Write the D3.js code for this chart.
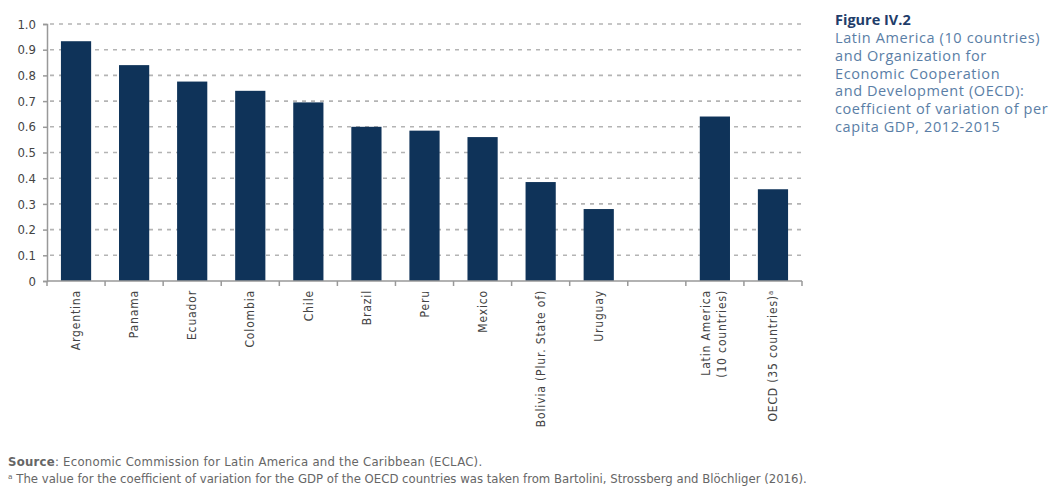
<!DOCTYPE html>
<html>
<head>
<meta charset="utf-8">
<script src="https://cdn.jsdelivr.net/npm/d3@7"></script>
<style>
  html, body { margin: 0; padding: 0; background: #fff; }
  svg { display: block; }
  .cond { font-family: "Liberation Sans Narrow", "DejaVu Sans Condensed", "Liberation Sans", sans-serif; }
</style>
</head>
<body>
<svg id="chart" width="1054" height="486"></svg>
<script>
// Coefficient of variation of per capita GDP, 2012-2015
const categories = [
  ["Argentina"], ["Panama"], ["Ecuador"], ["Colombia"], ["Chile"], ["Brazil"],
  ["Peru"], ["Mexico"], ["Bolivia (Plur. State of)"], ["Uruguay"], [""],
  ["Latin America", "(10 countries)"], ["OECD (35 countries)ᵃ"]
];
const values = [0.933, 0.84, 0.776, 0.74, 0.695, 0.60, 0.585, 0.56, 0.385, 0.28, null, 0.64, 0.357];
const yTicks = [0, 0.1, 0.2, 0.3, 0.4, 0.5, 0.6, 0.7, 0.8, 0.9, 1.0];
const titleLines = [
  "Latin America (10 countries)",
  "and Organization for",
  "Economic Cooperation",
  "and Development (OECD):",
  "coefficient of variation of per",
  "capita GDP, 2012-2015"
];

const svg = d3.select("#chart");
const plotLeft = 47, plotRight = 802, plotTop = 24, plotBottom = 281;

const keys = categories.map((c, i) => "k" + i);
const x = d3.scaleBand().domain(keys).range([plotLeft, plotRight]).paddingInner(0.48).paddingOuter(0.24);
const y = d3.scaleLinear().domain([0, 1]).range([plotBottom, plotTop]);

// dashed gridlines
svg.append("g").selectAll("line").data(yTicks.filter(d => d > 0)).join("line")
  .attr("x1", plotLeft + 3).attr("x2", plotRight)
  .attr("y1", d => y(d)).attr("y2", d => y(d))
  .attr("stroke", "#b4b4b4").attr("stroke-width", 1.6)
  .attr("stroke-dasharray", "4,5");

// bars
const data = keys.map((k, i) => ({ k, v: values[i] })).filter(d => d.v != null);
svg.append("g").selectAll("rect").data(data).join("rect")
  .attr("x", d => x(d.k))
  .attr("width", x.bandwidth())
  .attr("y", d => y(d.v))
  .attr("height", d => y(0) - y(d.v))
  .attr("fill", "#0f3359");

// y axis
const yAxis = svg.append("g").attr("transform", `translate(${plotLeft},0)`)
  .call(d3.axisLeft(y).tickValues(yTicks).tickSize(4).tickPadding(7)
    .tickFormat(d => d === 0 ? "0" : d3.format(".1f")(d)));
yAxis.select(".domain").attr("stroke", "#999").attr("stroke-width", 1.5);
yAxis.selectAll(".tick line").attr("stroke", "#999").attr("stroke-width", 1.5);
yAxis.selectAll(".tick text").attr("class", "cond")
  .attr("fill", "#444").style("font-size", "13px");

// x axis baseline and category separators
const step = x.step();
const bounds = d3.range(keys.length + 1).map(i =>
  i < keys.length ? x(keys[i]) - step * x.paddingInner() / 2 : x(keys[i - 1]) + x.bandwidth() + step * x.paddingInner() / 2);
svg.append("line").attr("x1", plotLeft).attr("x2", plotRight).attr("y1", plotBottom).attr("y2", plotBottom)
  .attr("stroke", "#999").attr("stroke-width", 1.5);
svg.append("g").selectAll("line").data(bounds).join("line")
  .attr("x1", d => d).attr("x2", d => d)
  .attr("y1", plotBottom).attr("y2", plotBottom + 5)
  .attr("stroke", "#999").attr("stroke-width", 1.5);

// rotated category labels
const lab = svg.append("g").selectAll("g").data(keys).join("g")
  .attr("transform", (k, i) => `translate(${x(k) + x.bandwidth() / 2},290) rotate(-90)`);
lab.each(function (k, i) {
  const lines = categories[i];
  const n = lines.length;
  d3.select(this).selectAll("text").data(lines).join("text")
    .attr("class", "cond")
    .attr("x", 0)
    .attr("y", (d, j) => (j - (n - 1) / 2) * 16 - (n - 1) * 1.5)
    .attr("dy", "0.35em")
    .attr("text-anchor", "end")
    .attr("fill", "#444")
    .style("font-size", "12px")
    .style("letter-spacing", "0.85px")
    .text(d => d);
});

// title block
const tb = svg.append("g").attr("transform", "translate(835,0)")
  .style("font-family", "'Open Sans', Lato, sans-serif");
tb.append("text").attr("x", 0).attr("y", 25)
  .attr("fill", "#1f3d6a").style("font-size", "14.5px").style("font-weight", "bold")
  .text("Figure IV.2");
tb.selectAll("text.sub").data(titleLines).join("text").attr("class", "sub")
  .attr("x", 0).attr("y", (d, i) => 43 + i * 17.8)
  .attr("fill", "#5a7ea6").style("font-size", "14.5px")
  .style("letter-spacing", "0.6px")
  .text(d => d);

// footer
const f1 = svg.append("text").attr("class", "cond").attr("x", 8).attr("y", 466)
  .attr("fill", "#666").style("font-size", "13px").style("letter-spacing", "0.25px");
f1.append("tspan").style("font-weight", "bold").text("Source");
f1.append("tspan").text(": Economic Commission for Latin America and the Caribbean (ECLAC).");
svg.append("text").attr("class", "cond").attr("x", 8).attr("y", 483)
  .attr("fill", "#666").style("font-size", "13px")
  .text("ᵃ The value for the coefficient of variation for the GDP of the OECD countries was taken from Bartolini, Strossberg and Blöchliger (2016).");
</script>
</body>
</html>
